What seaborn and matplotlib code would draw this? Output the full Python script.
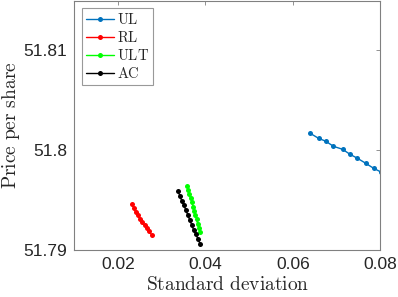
import matplotlib
matplotlib.use("Agg")
import matplotlib.pyplot as plt
import seaborn as sns
import pandas as pd

ul_x = [0.0640, 0.0659, 0.0676, 0.0693, 0.0714, 0.0731, 0.0748, 0.0767, 0.0785, 0.0803]
ul_y = [51.8017, 51.8012, 51.8009, 51.8004, 51.8001, 51.7996, 51.7992, 51.7987, 51.7982, 51.7978]

rl_x = [0.0232, 0.0236, 0.0240, 0.0245, 0.0250, 0.0255, 0.0261, 0.0266, 0.0271, 0.0277]
rl_y = [51.7946, 51.7942, 51.7938, 51.7935, 51.7931, 51.7928, 51.7925, 51.7922, 51.7919, 51.7915]

ult_x = [0.0358, 0.0361, 0.0363, 0.0366, 0.0369, 0.0372, 0.0374, 0.0377, 0.0380, 0.0382, 0.0385, 0.0388]
ult_y = [51.7964, 51.7960, 51.7956, 51.7952, 51.7948, 51.7943, 51.7939, 51.7935, 51.7931, 51.7926, 51.7922, 51.7918]

ac_x = [0.0337, 0.0342, 0.0346, 0.0351, 0.0355, 0.0360, 0.0364, 0.0369, 0.0373, 0.0378, 0.0383, 0.0388]
ac_y = [51.7959, 51.7954, 51.7949, 51.7945, 51.7940, 51.7935, 51.7930, 51.7925, 51.7920, 51.7916, 51.7911, 51.7906]

series_names = ["UL", "RL", "ULT", "AC"]
series_colors = ["#0072BD", "#FF0000", "#00FF00", "#000000"]
x_ticks = [0.02, 0.04, 0.06, 0.08]
x_tick_labels = ["0.02", "0.04", "0.06", "0.08"]
y_ticks = [51.79, 51.80, 51.81]
y_tick_labels = ["51.79", "51.8", "51.81"]

sns.set_theme(style="white")
plt.rcParams["font.family"] = ["Liberation Sans", "DejaVu Sans"]
plt.rcParams["mathtext.fontset"] = "cm"

fig = plt.figure(figsize=(3.98, 2.97), dpi=100)
ax = fig.add_axes([0.187, 0.158, 0.768, 0.840])

xs = [ul_x, rl_x, ult_x, ac_x]
ys = [ul_y, rl_y, ult_y, ac_y]
for name, color, x, y in zip(series_names, series_colors, xs, ys):
    df = pd.DataFrame({"x": x, "y": y})
    sns.lineplot(data=df, x="x", y="y", sort=False, ax=ax, color=color,
                 marker="o", markersize=3.6, markeredgewidth=0,
                 linewidth=1.0, label=r"$\mathrm{" + name + "}$")

ax.set_xlim(0.01, 0.08)
ax.set_ylim(51.79, 51.815)
ax.set_xticks(x_ticks)
ax.set_xticklabels(x_tick_labels)
ax.set_yticks(y_ticks)
ax.set_yticklabels(y_tick_labels)

gcol = "#262626"
for s in ax.spines.values():
    s.set_color("#808080")
    s.set_linewidth(0.8)
ax.tick_params(direction="in", length=3, width=0.6, color="#808080",
               top=True, right=True, labelsize=12.5, labelcolor=gcol, pad=5)

ax.set_xlabel(r"$\mathrm{Standard\ deviation}$", fontsize=14, color=gcol, labelpad=3)
ax.set_ylabel(r"$\mathrm{Price\ per\ share}$", fontsize=14, color=gcol, labelpad=1)

leg = ax.legend(loc="upper left", fontsize=10.5, frameon=True, fancybox=False,
                handlelength=1.9, handletextpad=0.2, borderpad=0.3,
                labelspacing=0.2, borderaxespad=0.5)
leg.get_frame().set_edgecolor("#808080")
leg.get_frame().set_linewidth(0.8)

fig.savefig("out.png", dpi=100)
